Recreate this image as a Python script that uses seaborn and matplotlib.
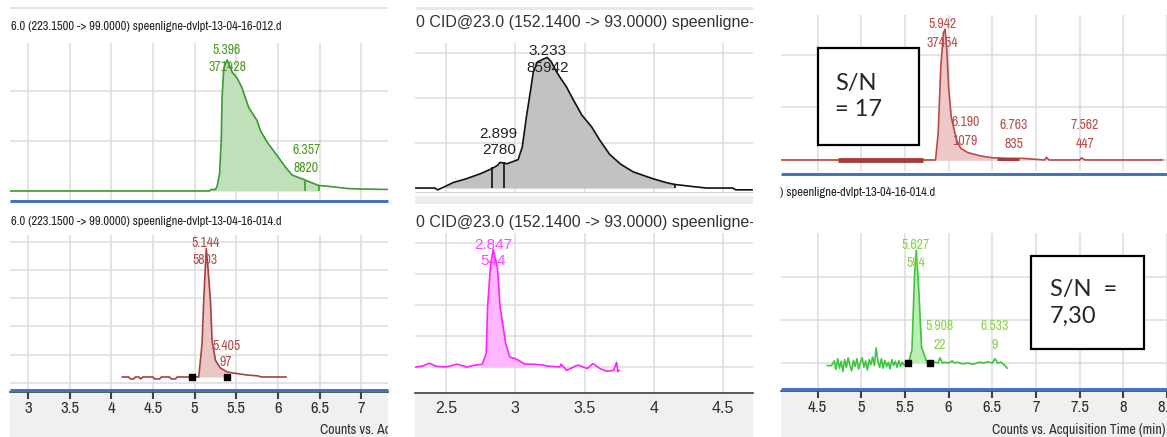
# Chromatogram comparison panels (MassHunter screenshots collage)

import numpy as np
import matplotlib
matplotlib.use('Agg')
import matplotlib.pyplot as plt
import matplotlib.patches as mpatches
from matplotlib import font_manager
import seaborn as sns

sns.set_style('white')

# ---- data (time in min, intensity in grid units) ----
# column 1, top: green trace (012.d)
t_a = [2.78, 5.18, 5.20, 5.25, 5.27, 5.30, 5.32, 5.33, 5.35, 5.39, 5.41, 5.45, 5.51, 5.57,
       5.65, 5.75, 5.79, 5.87, 5.99, 6.09, 6.17, 6.31, 6.43, 6.49, 6.63, 6.83, 6.99, 7.32]
i_a = [0.00, 0.00, 0.03, 0.03, 0.09, 0.35, 1.00, 1.87, 2.45, 2.62, 2.55, 2.38, 2.26, 2.06,
       1.67, 1.41, 1.21, 0.98, 0.71, 0.48, 0.32, 0.23, 0.15, 0.11, 0.09, 0.05, 0.04, 0.03]
peaks_a = [('5.396', '371428'), ('6.357', '8820')]

# column 1, bottom: brown trace (014.d)
t_b = [4.13, 4.21, 4.23, 4.27, 4.29, 4.33, 4.35, 4.38, 4.50, 4.52, 4.58, 4.60, 4.70, 4.72,
       4.77, 4.79, 5.05, 5.09, 5.11, 5.14, 5.16, 5.19, 5.21, 5.25, 5.31, 5.39, 5.46, 5.63,
       5.76, 5.80, 6.10]
i_b = [0.21, 0.21, 0.14, 0.14, 0.21, 0.21, 0.14, 0.21, 0.21, 0.14, 0.14, 0.21, 0.21, 0.14,
       0.14, 0.21, 0.21, 1.40, 2.93, 4.75, 4.10, 2.93, 1.50, 0.80, 0.53, 0.39, 0.35, 0.28,
       0.25, 0.21, 0.21]
peaks_b = [('5.144', '5803'), ('5.405', '97')]

# column 2, top: grey trace
t_c = [2.28, 2.42, 2.44, 2.49, 2.55, 2.65, 2.75, 2.83, 2.87, 2.89, 2.94, 3.02, 3.05, 3.08,
       3.11, 3.13, 3.16, 3.20, 3.23, 3.26, 3.29, 3.32, 3.37, 3.42, 3.48, 3.55, 3.61, 3.68,
       3.76, 3.85, 3.99, 4.09, 4.15, 4.26, 4.38, 4.57, 4.59, 4.62, 4.71]
i_c = [0.00, 0.00, -0.04, 0.03, 0.12, 0.21, 0.32, 0.43, 0.50, 0.57, 0.54, 0.63, 0.91, 1.58,
       2.17, 2.58, 2.80, 2.86, 2.90, 2.80, 2.62, 2.47, 2.24, 1.95, 1.62, 1.36, 1.06, 0.75,
       0.53, 0.36, 0.21, 0.12, 0.08, 0.04, 0.00, 0.00, -0.04, -0.04, -0.04]
peaks_c = [('3.233', '85942'), ('2.899', '2780')]

# column 2, bottom: magenta trace
t_d = [2.28, 2.33, 2.38, 2.43, 2.50, 2.58, 2.65, 2.71, 2.76, 2.79, 2.80, 2.82, 2.84, 2.87,
       2.89, 2.93, 2.96, 3.01, 3.07, 3.13, 3.20, 3.23, 3.32, 3.33, 3.37, 3.45, 3.52, 3.56,
       3.61, 3.66, 3.71, 3.73, 3.74, 3.75]
i_d = [0.00, 0.03, 0.12, 0.02, 0.00, 0.09, 0.00, 0.06, 0.08, 0.43, 1.94, 3.23, 3.79, 3.23,
       1.94, 0.76, 0.32, 0.25, 0.09, 0.09, 0.06, 0.03, 0.00, 0.09, -0.11, 0.06, -0.05, 0.11,
       -0.05, -0.14, -0.11, 0.15, -0.15, -0.11]
peaks_d = [('2.847', '544')]

# column 3, top: red trace
t_e = [4.08, 5.85, 5.88, 5.91, 5.94, 5.96, 5.98, 6.00, 6.03, 6.09, 6.14, 6.22, 6.37, 6.51,
       6.70, 6.85, 7.10, 7.12, 7.15, 7.50, 7.52, 7.56, 8.45]
i_e = [0.00, 0.00, 0.50, 1.76, 2.42, 2.49, 2.08, 1.38, 0.82, 0.38, 0.22, 0.14, 0.075, 0.04,
       0.03, 0.03, 0.00, 0.05, 0.00, 0.00, 0.04, 0.00, 0.00]
peaks_e = [('5.942', '37454'), ('6.190', '1079'), ('6.763', '835'), ('7.562', '447')]

# column 3, bottom: green noisy trace
t_f = [4.61, 4.66, 4.69, 4.71, 4.73, 4.75, 4.77, 4.79, 4.81, 4.83, 4.85, 4.87, 4.89, 4.91,
       4.93, 4.95, 4.97, 4.99, 5.01, 5.03, 5.05, 5.07, 5.09, 5.11, 5.13, 5.15, 5.17, 5.19,
       5.21, 5.23, 5.25, 5.27, 5.29, 5.31, 5.33, 5.35, 5.37, 5.39, 5.41, 5.43, 5.45, 5.47,
       5.49, 5.52, 5.54, 5.58, 5.61, 5.63, 5.66, 5.69, 5.75, 5.79, 5.84, 5.88, 5.90, 5.93,
       5.97, 6.00, 6.04, 6.07, 6.10, 6.16, 6.22, 6.28, 6.35, 6.40, 6.45, 6.50, 6.53, 6.56,
       6.60, 6.64, 6.67]
i_f = [-0.06, -0.06, 0.05, -0.15, 0.10, -0.12, 0.04, -0.20, 0.08, -0.10, 0.12, -0.05, -0.18,
       0.06, -0.08, 0.10, -0.14, 0.02, 0.12, -0.10, 0.05, -0.16, 0.08, -0.04, 0.14, -0.06,
       0.35, 0.05, -0.10, 0.10, -0.12, 0.06, -0.08, 0.02, -0.14, 0.08, -0.06, 0.04, -0.10,
       0.06, -0.08, 0.02, -0.05, -0.02, 0.00, 0.30, 2.05, 2.62, 1.63, 0.37, 0.02, 0.00,
       0.02, 0.00, 0.12, 0.00, 0.02, 0.00, 0.05, 0.00, 0.02, -0.02, 0.00, -0.03, 0.02, 0.00,
       0.03, 0.00, 0.10, 0.00, 0.02, -0.05, -0.12]
peaks_f = [('5.627', '594'), ('5.908', '22'), ('6.533', '9')]

ticks_1 = [3, 3.5, 4, 4.5, 5, 5.5, 6, 6.5, 7]
ticks_2 = [2.5, 3, 3.5, 4, 4.5]
ticks_3 = [4.5, 5, 5.5, 6, 6.5, 7, 7.5, 8, 8.5]

title_1a = '6.0 (223.1500 -> 99.0000) speenligne-dvlpt-13-04-16-012.d'
title_1b = '6.0 (223.1500 -> 99.0000) speenligne-dvlpt-13-04-16-014.d'
title_2 = '0 CID@23.0 (152.1400 -> 93.0000) speenligne-dvlpt-13-04-16-014.d'
title_3b = ') speenligne-dvlpt-13-04-16-014.d'
axis_title = 'Counts vs. Acquisition Time (min)'
sn_1 = 'S/N\n= 17'
sn_2 = 'S/N  =\n7,30'

# ---- layout ----
W, H = 1167, 437
fig = plt.figure(figsize=(W / 100, H / 100), dpi=100)
fig.patch.set_facecolor('white')

names = {f.name for f in font_manager.fontManager.ttflist}
NARROW = 'DejaVu Sans'
for cand in ['Liberation Sans Narrow', 'Arial Narrow', 'Archivo Narrow', 'Roboto Condensed']:
    if cand in names:
        NARROW = cand
        break
ARIAL = 'Liberation Sans'
BLUE = '#4472c4'
GRID = '#dddddd'
ST = 'condensed'


def px_ax(x0, y0, x1, y1):
    return fig.add_axes([x0 / W, 1 - y1 / H, (x1 - x0) / W, (y1 - y0) / H])


def hline(x0, x1, y, color, lw):
    fig.add_artist(plt.Line2D([x0 / W, x1 / W], [1 - y / H, 1 - y / H], color=color,
                              lw=lw * 0.72, transform=fig.transFigure, solid_capstyle='butt'))


def ftext(x, y, s, clip=None, **kw):
    t = fig.text(x / W, 1 - y / H, s, va='center', ha='left', **kw)
    if clip is not None:
        x0, x1 = clip
        r = mpatches.Rectangle((x0 / W, 0), (x1 - x0) / W, 1, transform=fig.transFigure)
        t.set_clip_path(r)
        t.set_clip_on(True)
    return t


def trace_panel(box, xlim, ylim, xticks, yticks, t, y, color, fill, band, base=0.0, lw=1.2):
    ax = px_ax(*box)
    ax.set_xlim(xlim)
    ax.set_ylim(ylim)
    ax.set_xticks(xticks)
    ax.set_yticks(yticks)
    ax.grid(True, color=GRID, lw=1.1)
    ax.tick_params(length=0, labelbottom=False, labelleft=False)
    for s in ax.spines.values():
        s.set_visible(False)
    t = np.asarray(t)
    y = np.asarray(y)
    m = (t >= band[0]) & (t <= band[1])
    ax.fill_between(t, y, base, where=m, color=fill, lw=0, zorder=2)
    sns.lineplot(x=t, y=y, ax=ax, color=color, lw=lw, estimator=None, sort=False, zorder=3)
    return ax


def peak_labels(ax, peaks, pos, color, font, size, stretch='normal'):
    for (rt, area), (x, y1, y2) in zip(peaks, pos):
        ax.text(x, y1, rt, ha='center', va='center', color=color, family=font, fontsize=size,
                fontstretch=stretch, zorder=4)
        ax.text(x, y2, area, ha='center', va='center', color=color, family=font, fontsize=size,
                fontstretch=stretch, zorder=4)


def axis_strip(box, xlim, ticks, font, size, ticklen, title_on=True, stretch='normal', tsize=9):
    ax = px_ax(*box)
    ax.set_facecolor('#f0f0f0')
    ax.set_xlim(xlim)
    ax.set_ylim(0, 1)
    ax.set_yticks([])
    ax.set_xticks(ticks)
    ax.tick_params(axis='x', top=True, bottom=False, direction='in', length=ticklen,
                   width=1.5, color='#404040', labelbottom=False)
    for s in ax.spines.values():
        s.set_visible(False)
    ax.spines['top'].set_visible(True)
    ax.spines['top'].set_color('#404040')
    ax.spines['top'].set_linewidth(1.2)
    for tk in ticks:
        ax.text(tk, 0.64, '%g' % tk, ha='center', va='center', family=font, fontsize=size,
                fontstretch=stretch, color='#303030', clip_on=True)
    if title_on:
        ax.text(6.5, 0.15, axis_title, ha='left', va='center', family=font, fontsize=tsize,
                fontstretch=stretch, color='#303030', clip_on=True)
    return ax


# ---- column 1 ----
hline(10, 388, 8, '#e4e4e4', 2)
ftext(11, 26, title_1a, family=NARROW, fontstretch=ST, fontsize=9, color='#222222')
ax = trace_panel((10, 43, 388, 200), (2.784, 7.322), (-0.18, 2.96), ticks_1, [1, 2],
                 t_a, i_a, '#3a9a34', '#bfe0b9', (5.20, 6.49))
ax.vlines([6.33, 6.49], 0, [0.21, 0.11], color='#3a9a34', lw=1.2, zorder=3)
peak_labels(ax, peaks_a, [(5.39, 2.82, 2.48), (6.34, 0.82, 0.46)], '#4f9a2a', NARROW, 10, ST)
hline(10, 388, 201, BLUE, 3)

ftext(11, 221, title_1b, family=NARROW, fontstretch=ST, fontsize=9, color='#222222')
ax = trace_panel((10, 235, 388, 390), (2.784, 7.322), (-0.25, 5.23), ticks_1, [0, 1, 2, 3, 4, 5],
                 t_b, i_b, '#a8413e', '#e8c6c4', (5.05, 5.39), base=0.21)
ax.scatter([4.97, 5.39], [0.21, 0.21], marker='s', s=22, color='black', zorder=5)
peak_labels(ax, peaks_b, [(5.13, 4.95, 4.35), (5.38, 1.31, 0.74)], '#b0504a', NARROW, 10, ST)
hline(10, 388, 389.5, BLUE, 3)
axis_strip((10, 392, 388, 437), (2.784, 7.322), ticks_1, NARROW, 12, 5, stretch=ST, tsize=10)

# ---- column 2 ----
hline(415, 753, 8, '#e8e8e8', 3)
ftext(416, 22, title_2, clip=(415, 753), family=ARIAL, fontsize=11.5, color='#333333')
ax = trace_panel((415, 43, 753, 193), (2.276, 4.715), (-0.11, 3.22), ticks_2, [1, 2, 3],
                 t_c, i_c, '#111111', '#c2c2c2', (2.49, 4.15))
ax.vlines([2.835, 2.92, 4.15], 0, [0.46, 0.58, 0.08], color='#111111', lw=1.2, zorder=3)
peak_labels(ax, peaks_c, [(3.23, 3.04, 2.67), (2.88, 1.20, 0.84)], '#222222', ARIAL, 11)
hline(415, 753, 192, '#d0d0d0', 1)
hline(415, 753, 200, '#ececec', 8)

ftext(416, 222, title_2, clip=(415, 753), family=ARIAL, fontsize=11.5, color='#333333')
ax = trace_panel((415, 233, 753, 393), (2.276, 4.715), (-0.84, 4.32), ticks_2, [0, 1, 2, 3, 4],
                 t_d, i_d, '#ff22ff', '#ffb8ff', (2.76, 3.07))
peak_labels(ax, peaks_d, [(2.84, 3.94, 3.42)], '#ff44ff', ARIAL, 11)
axis_strip((415, 393, 753, 437), (2.276, 4.715), ticks_2, ARIAL, 11.5, 0, title_on=False)

# ---- column 3 ----
ax = trace_panel((781, 15, 1167, 171), (4.081, 8.452), (-0.21, 2.76), ticks_3, [0, 1, 2],
                 t_e, i_e, '#b84a48', '#ecc8c8', (5.85, 6.51))
ax.plot([4.73, 5.71], [0, 0], color='#a83c3a', lw=3.5, solid_capstyle='butt', zorder=3)
ax.plot([6.55, 6.80], [0.01, 0.01], color='#a83c3a', lw=2.2, solid_capstyle='butt', zorder=3)
peak_labels(ax, peaks_e, [(5.93, 2.59, 2.23), (6.19, 0.72, 0.36), (6.75, 0.67, 0.30),
                          (7.56, 0.67, 0.30)], '#b8504c', NARROW, 10, ST)
hline(781, 1167, 173.5, BLUE, 3)
ftext(780, 193, title_3b, family=NARROW, fontstretch=ST, fontsize=9, color='#222222')

ax = trace_panel((781, 233, 1167, 388), (4.081, 8.452), (-0.58, 3.02), ticks_3, [0, 1, 2],
                 t_f, i_f, '#3fc43f', '#bdeeb5', (5.54, 5.79))
ax.scatter([5.54, 5.79], [0.0, 0.0], marker='s', s=22, color='black', zorder=5)
peak_labels(ax, peaks_f, [(5.62, 2.74, 2.33), (5.90, 0.86, 0.42), (6.53, 0.86, 0.42)],
            '#8ad44a', NARROW, 10, ST)
hline(781, 1167, 388.5, BLUE, 3)
axis_strip((781, 391, 1167, 437), (4.081, 8.452), ticks_3, NARROW, 12, 5, stretch=ST, tsize=10)

# ---- S/N boxes ----
for (x0, y0, x1, y1), txt, tx in [((818, 48, 919, 145), sn_1, 835), ((1031, 256, 1144, 349), sn_2, 1050)]:
    fig.add_artist(mpatches.Rectangle((x0 / W, 1 - y1 / H), (x1 - x0) / W, (y1 - y0) / H,
                                      transform=fig.transFigure, facecolor='white',
                                      edgecolor='black', lw=1.6, zorder=10))
    fig.text(tx / W, 1 - (y0 + y1) / 2 / H, txt, ha='left', va='center', family='Lato',
             fontsize=17, linespacing=1.35, zorder=11)

plt.savefig('out.png', dpi=100)
